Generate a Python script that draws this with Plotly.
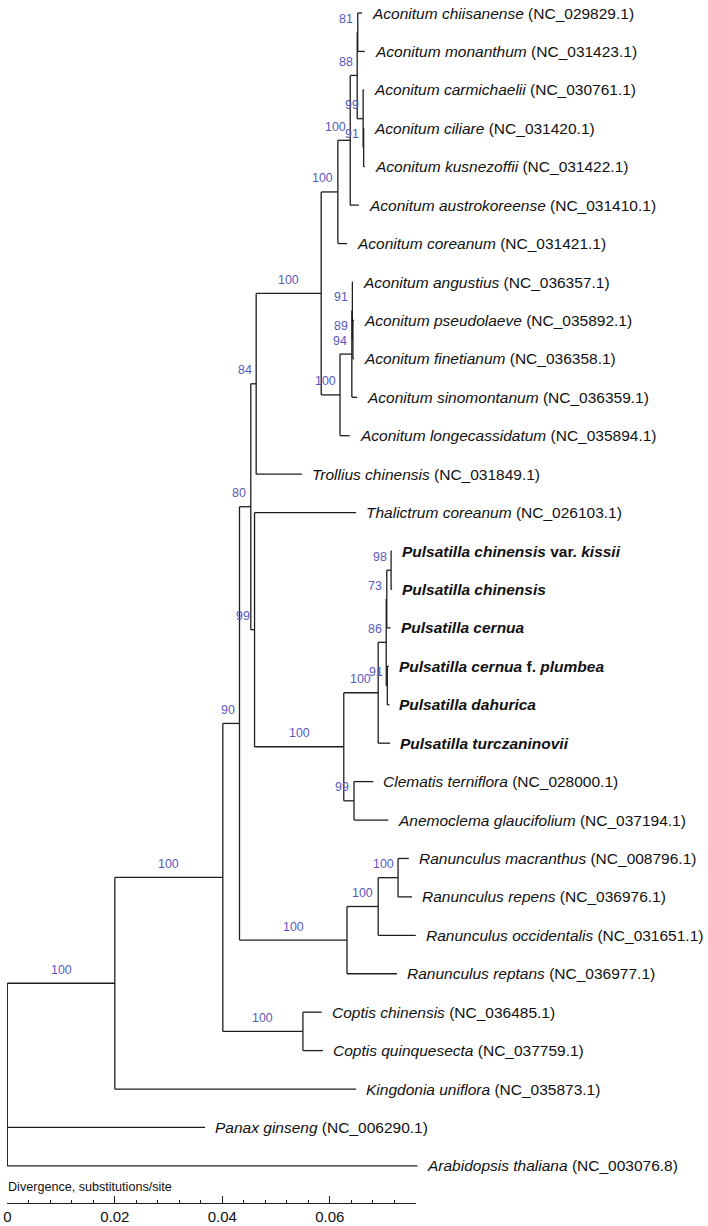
import plotly.graph_objects as go

# ---------------- data ----------------
leaf_ids = [f"L{i}" for i in range(1, 32)]
leaf_names = [
    "Aconitum chiisanense", "Aconitum monanthum", "Aconitum carmichaelii", "Aconitum ciliare",
    "Aconitum kusnezoffii", "Aconitum austrokoreense", "Aconitum coreanum", "Aconitum angustius",
    "Aconitum pseudolaeve", "Aconitum finetianum", "Aconitum sinomontanum", "Aconitum longecassidatum",
    "Trollius chinensis", "Thalictrum coreanum",
    "Pulsatilla chinensis var. kissii", "Pulsatilla chinensis", "Pulsatilla cernua",
    "Pulsatilla cernua f. plumbea", "Pulsatilla dahurica", "Pulsatilla turczaninovii",
    "Clematis terniflora", "Anemoclema glaucifolium",
    "Ranunculus macranthus", "Ranunculus repens", "Ranunculus occidentalis", "Ranunculus reptans",
    "Coptis chinensis", "Coptis quinquesecta", "Kingdonia uniflora", "Panax ginseng",
    "Arabidopsis thaliana",
]
leaf_acc = [
    "NC_029829.1", "NC_031423.1", "NC_030761.1", "NC_031420.1", "NC_031422.1", "NC_031410.1",
    "NC_031421.1", "NC_036357.1", "NC_035892.1", "NC_036358.1", "NC_036359.1", "NC_035894.1",
    "NC_031849.1", "NC_026103.1", "", "", "", "", "", "",
    "NC_028000.1", "NC_037194.1", "NC_008796.1", "NC_036976.1", "NC_031651.1", "NC_036977.1",
    "NC_036485.1", "NC_037759.1", "NC_035873.1", "NC_006290.1", "NC_003076.8",
]
leaf_tip = [
    0.0660, 0.0665, 0.0664, 0.0664, 0.0665, 0.0654, 0.0632, 0.0643, 0.0645, 0.0645, 0.0651, 0.0637,
    0.0548, 0.0649, 0.0715, 0.0716, 0.0713, 0.0710, 0.0711, 0.0712, 0.0681, 0.0709,
    0.0747, 0.0753, 0.0760, 0.0725, 0.0585, 0.0587, 0.0649, 0.0368, 0.0763,
]

node_ids = ["root", "A", "B", "C", "E", "D", "M", "L", "H", "G", "K", "I", "J", "N", "O", "P", "Q",
            "F", "W", "T", "S", "U", "R", "V", "X", "Y", "Z", "AA", "COP"]
node_x = [0.0, 0.0200, 0.0401, 0.0432, 0.0453, 0.0463, 0.0584, 0.0615, 0.0638, 0.0651, 0.0652,
          0.0662, 0.0663, 0.0619, 0.0641, 0.0642, 0.0643, 0.0460, 0.0626, 0.0690, 0.0705, 0.0706,
          0.0714, 0.0707, 0.0645, 0.0632, 0.0690, 0.0727, 0.0550]
node_children = [
    ["A", "L30", "L31"], ["B", "L29"], ["C", "COP"], ["E", "Y"], ["D", "F"], ["M", "L13"],
    ["L", "N"], ["H", "L7"], ["G", "L6"], ["K", "I"], ["L1", "L2"], ["L3", "J"], ["L4", "L5"],
    ["O", "L12"], ["P", "L11"], ["L8", "Q"], ["L9", "L10"], ["L14", "W"], ["T", "X"],
    ["S", "L20"], ["U", "V"], ["R", "L17"], ["L15", "L16"], ["L18", "L19"], ["L21", "L22"],
    ["Z", "L26"], ["AA", "L25"], ["L23", "L24"], ["L27", "L28"],
]
node_support = [None, 100, 100, 90, 80, 84, 100, 100, 100, 88, 81, 99, 91, 100, 94, 91, 89,
                99, 100, 100, 86, 73, 98, 91, 99, 100, 100, 100, 100]

scale_ticks = [0, 0.02, 0.04, 0.06]
scale_title = "Divergence, substitutions/site"

# ---------------- geometry helpers ----------------
W, H = 708, 1226
ML, MR = 7, 1
PX_PER_UNIT = 5375.0
PX = 1.0 / PX_PER_UNIT
x0 = -0.3 * PX
plot_w = W - ML - MR
ROW = 38.43
y_top = -13.0 / ROW
y_bot = y_top + H / ROW

xpos = {}
ypos = {}
for i, lid in enumerate(leaf_ids):
    xpos[lid] = leaf_tip[i]
    ypos[lid] = float(i)
for nid, nx in zip(node_ids, node_x):
    xpos[nid] = nx
children = dict(zip(node_ids, node_children))
parent = {}
for nid, ch in children.items():
    for c in ch:
        parent[c] = nid


def get_y(n):
    if n in ypos:
        return ypos[n]
    ys = [get_y(c) for c in children[n]]
    ypos[n] = (ys[0] + ys[-1]) / 2.0 if len(ys) == 2 else (ys[0] + ys[-1]) / 2.0
    return ypos[n]


for nid in node_ids:
    get_y(nid)
# root: vertical spans children, node y for two-child nodes = mean of children
for nid in node_ids:
    ch = children[nid]
    if len(ch) == 2:
        ypos[nid] = (ypos[ch[0]] + ypos[ch[1]]) / 2.0

lx, ly = [], []
for nid in node_ids:
    ch = children[nid]
    cy = [ypos[c] for c in ch]
    lx += [xpos[nid], xpos[nid], None]
    ly += [min(cy), max(cy), None]
for n, p in parent.items():
    lx += [xpos[p], xpos[n], None]
    ly += [ypos[n], ypos[n], None]

fig = go.Figure()
fig.add_trace(go.Scatter(x=lx, y=ly, mode="lines", line=dict(color="#1e1e1e", width=1.3),
                         hoverinfo="skip", showlegend=False))
# invisible trace on the scale axis
fig.add_trace(go.Scatter(x=[0], y=[ypos["L31"]], xaxis="x2", yaxis="y", mode="markers",
                         marker=dict(opacity=0), hoverinfo="skip", showlegend=False))

FONT = "Liberation Sans, Arial, sans-serif"
ann = []


def leaf_text(name, acc):
    if name.startswith("Pulsatilla"):
        if " var. " in name:
            a, b = name.split(" var. ")
            return f"<b><i>{a}</i> var. <i>{b}</i></b>"
        if " f. " in name:
            a, b = name.split(" f. ")
            return f"<b><i>{a}</i> f. <i>{b}</i></b>"
        return f"<b><i>{name}</i></b>"
    return f"<i>{name}</i> ({acc})"


for i, lid in enumerate(leaf_ids):
    ann.append(dict(x=xpos[lid], y=ypos[lid], xref="x", yref="y", text=leaf_text(leaf_names[i], leaf_acc[i]),
                    showarrow=False, xanchor="left", yanchor="middle", xshift=9, borderpad=0,
                    font=dict(family=FONT, size=15.5, color="#111")))

SUP_FS = 12.4
for nid, sup in zip(node_ids, node_support):
    if sup is None:
        continue
    s = str(sup)
    w = 0.56 * SUP_FS * len(s)
    p = parent[nid]
    node_px = (xpos[nid] - x0) * PX_PER_UNIT
    mid = (xpos[p] + xpos[nid]) / 2.0
    mid_px = (mid - x0) * PX_PER_UNIT
    if mid_px + w / 2 <= node_px - 3.5:
        a = dict(x=mid, xanchor="center", xshift=0)
    else:
        a = dict(x=xpos[nid], xanchor="right", xshift=-3.5)
    a.update(y=ypos[nid], xref="x", yref="y", text=s, showarrow=False, yanchor="middle",
             yshift=13.5, borderpad=0, font=dict(family=FONT, size=SUP_FS, color="#5858c0"))
    ann.append(a)

ann.append(dict(x=0, y=(H - 1187) / H, xref="x2", yref="paper", text=scale_title, showarrow=False,
                xanchor="left", yanchor="middle", borderpad=0,
                font=dict(family=FONT, size=12.6, color="#111")))

scale_max = 0.07601
d0 = (0 - x0) * PX_PER_UNIT / plot_w
d1 = (scale_max - x0) * PX_PER_UNIT / plot_w

fig.update_layout(
    width=W, height=H,
    margin=dict(l=ML, r=MR, t=0, b=0, pad=0),
    paper_bgcolor="white", plot_bgcolor="rgba(0,0,0,0)",
    showlegend=False,
    xaxis=dict(range=[x0, x0 + plot_w * PX], visible=False, domain=[0, 1]),
    yaxis=dict(range=[y_bot, y_top], visible=False, domain=[0, 1]),
    xaxis2=dict(range=[0, scale_max], domain=[d0, d1], anchor="free", position=(H - 1203) / H,
                showline=True, linecolor="#1e1e1e", linewidth=1, showgrid=False, zeroline=False,
                tickmode="array", tickvals=scale_ticks, ticktext=[str(t) if t else "0" for t in scale_ticks],
                ticks="inside", ticklen=7, tickwidth=1, tickcolor="#1e1e1e",
                tickfont=dict(family=FONT, size=15, color="#111"),
                minor=dict(dtick=0.004, tick0=0, ticks="inside", ticklen=3.5, tickwidth=1,
                           tickcolor="#1e1e1e", showgrid=False)),
    annotations=ann,
)

fig.write_html("out.html", config={"displayModeBar": False},
               post_script="document.body.style.margin='0';document.body.style.overflow='hidden';")
